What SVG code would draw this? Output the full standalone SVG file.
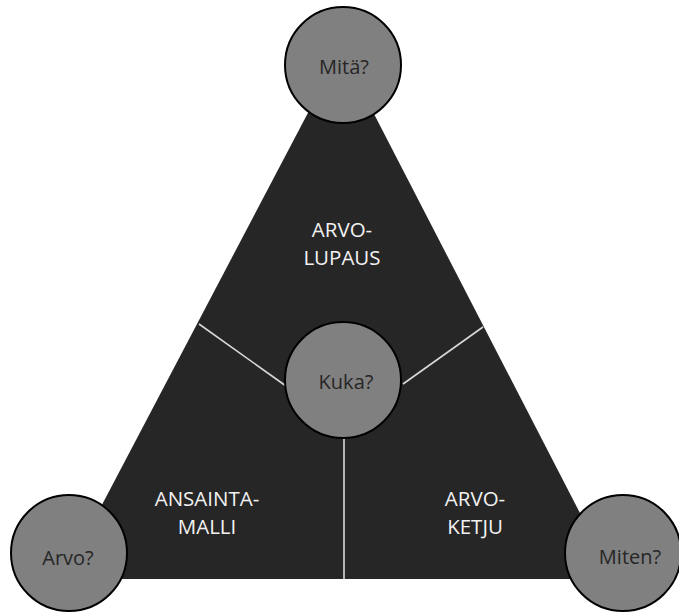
<svg xmlns="http://www.w3.org/2000/svg" width="679" height="612" viewBox="0 0 679 612">
<style>
.tri{fill:#262626;stroke:none}
.c{fill:#808080;stroke:#000;stroke-width:2}
.div{stroke:#d9d9d9;stroke-width:1.6;fill:none}
.ct{font-family:"Open Sans","Liberation Sans",sans-serif;font-size:20px;fill:#262626;text-anchor:middle}
.lt{font-family:"Open Sans","Liberation Sans",sans-serif;font-size:20.5px;fill:#f2f2f2;text-anchor:middle}
</style>
<rect width="679" height="612" fill="#fff"/>
<g id="triangle">
<polygon class="tri" points="341,50 63,579 614,579"/>
<text class="lt" x="342" y="237">ARVO-</text>
<text class="lt" x="342" y="265">LUPAUS</text>
<text class="lt" x="207" y="506">ANSAINTA-</text>
<text class="lt" x="207" y="534">MALLI</text>
<text class="lt" x="475" y="506">ARVO-</text>
<text class="lt" x="475" y="534">KETJU</text>
</g>
<g id="connectors">
<line class="div" x1="199" y1="324" x2="286" y2="386"/>
<line class="div" x1="483" y1="327" x2="403" y2="384"/>
<line class="div" x1="344" y1="438" x2="344" y2="579"/>
</g>
<g id="node-mita">
<circle class="c" cx="343" cy="65" r="58"/>
<text class="ct" x="344" y="74">Mitä?</text>
</g>
<g id="node-kuka">
<circle class="c" cx="343" cy="380" r="58"/>
<text class="ct" x="346" y="389">Kuka?</text>
</g>
<g id="node-arvo">
<circle class="c" cx="69" cy="553" r="58"/>
<text class="ct" x="68" y="565">Arvo?</text>
</g>
<g id="node-miten">
<circle class="c" cx="623" cy="553" r="58"/>
<text class="ct" x="630" y="564">Miten?</text>
</g>
</svg>
